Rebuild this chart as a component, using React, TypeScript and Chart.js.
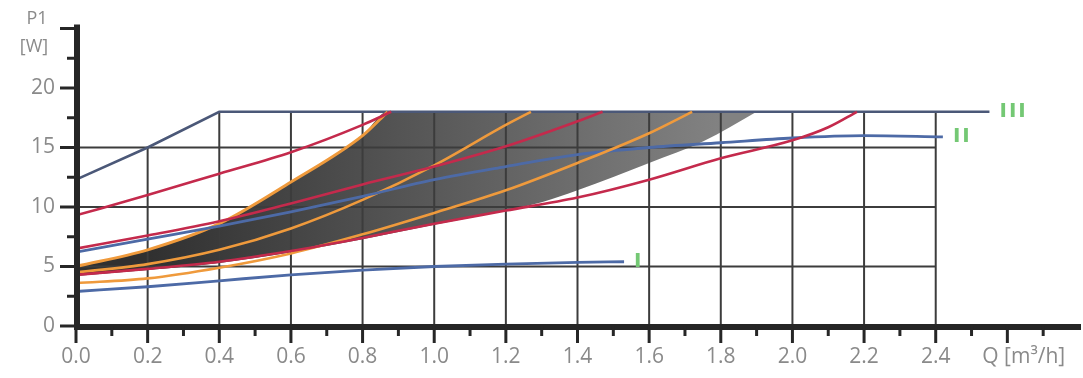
import React, { useEffect, useRef } from "react";
import { Chart, registerables } from "chart.js";

Chart.register(...registerables);

// ---- axis ticks / labels ----
const xTickValues = [0, 0.2, 0.4, 0.6, 0.8, 1.0, 1.2, 1.4, 1.6, 1.8, 2.0, 2.2, 2.4];
const xTickLabels = ["0.0", "0.2", "0.4", "0.6", "0.8", "1.0", "1.2", "1.4", "1.6", "1.8", "2.0", "2.2", "2.4"];
const yTickValues = [0, 5, 10, 15, 20];
const yTickLabels = ["0", "5", "10", "15", "20"];
const xAxisTitle = "Q [m³/h]";
const yAxisTitle = ["P1", "[W]"];
const gridRowValues = [5, 10, 15];

// ---- curves (Q in m³/h, P1 in W) ----
const qIII = [0, 0.2, 0.4, 2.55];
const pIII = [12.3, 15.0, 18, 18];
const qII = [0, 0.2, 0.4, 0.6, 0.8, 1.0, 1.2, 1.4, 1.6, 1.8, 2.0, 2.2, 2.42];
const pII = [6.2, 7.3, 8.4, 9.6, 10.9, 12.3, 13.4, 14.4, 15.0, 15.4, 15.8, 16.0, 15.9];
const qI = [0, 0.2, 0.4, 0.6, 0.8, 1.0, 1.2, 1.4, 1.53];
const pI = [2.9, 3.3, 3.8, 4.3, 4.7, 5.0, 5.2, 5.35, 5.4];

const qRed1 = [0, 0.2, 0.4, 0.6, 0.8, 0.88];
const pRed1 = [9.3, 11.0, 12.8, 14.6, 16.9, 18];
const qRed2 = [0, 0.2, 0.4, 0.6, 0.8, 1.0, 1.2, 1.4, 1.47];
const pRed2 = [6.5, 7.6, 8.8, 10.3, 11.9, 13.4, 15.1, 17.2, 18];
const qRed3 = [0, 0.2, 0.4, 0.6, 0.8, 1.0, 1.2, 1.4, 1.6, 1.8, 2.0, 2.1, 2.18];
const pRed3 = [4.3, 4.8, 5.4, 6.3, 7.4, 8.6, 9.7, 10.8, 12.3, 14.1, 15.6, 16.7, 18];

const qOrange1 = [0, 0.2, 0.4, 0.6, 0.8, 0.87];
const pOrange1 = [5.0, 6.4, 8.6, 12.1, 16.0, 18];
const qOrange2 = [0, 0.2, 0.4, 0.6, 0.8, 1.0, 1.2, 1.27];
const pOrange2 = [4.5, 5.2, 6.4, 8.2, 10.6, 13.5, 16.9, 18];
const qOrange3 = [0, 0.2, 0.4, 0.6, 0.8, 1.0, 1.2, 1.4, 1.6, 1.72];
const pOrange3 = [3.6, 4.0, 4.9, 6.1, 7.7, 9.5, 11.4, 13.7, 16.2, 18];

// ---- shaded operating area ----
const qAreaTop = [0, 0.2, 0.4, 0.6, 0.8, 0.87, 1.9];
const pAreaTop = [5.0, 6.4, 8.6, 12.1, 16.0, 18, 18];
const qAreaBottom = [0, 0.2, 0.4, 0.6, 0.8, 1.0, 1.2, 1.3, 1.4, 1.6, 1.75, 1.9];
const pAreaBottom = [4.2, 4.7, 5.3, 6.2, 7.3, 8.5, 9.7, 10.4, 11.4, 13.7, 15.5, 18];

const curveLabels = ["I", "II", "III"];

const pts = (q: number[], p: number[]) => q.map((x, i) => ({ x, y: p[i] }));

const RED = "#c42a4c";
const ORANGE = "#ef9a3c";
const BLUE = "#4d6aa6";
const NAVY = "#4b5878";
const GREEN = "#74c874";
const LABEL = "#8a8a8a";
const AXIS = "#262626";
const GRID = "#3c3c3c";

function interp(q: number[], p: number[], x: number) {
  if (x <= q[0]) return p[0];
  for (let i = 1; i < q.length; i++) {
    if (x <= q[i]) {
      const t = (x - q[i - 1]) / (q[i] - q[i - 1]);
      return p[i - 1] + t * (p[i] - p[i - 1]);
    }
  }
  return p[p.length - 1];
}

const framePlugin = {
  id: "frame",
  beforeDatasetsDraw(chart: any) {
    const { ctx, scales } = chart;
    const xs = scales.x, ys = scales.y;
    ctx.save();
    ctx.strokeStyle = GRID;
    ctx.lineWidth = 2;
    xTickValues.forEach((v) => {
      if (v === 0) return;
      const top = Math.min(18, interp(qIII, pIII, v));
      const x = xs.getPixelForValue(v);
      ctx.beginPath();
      ctx.moveTo(x, ys.getPixelForValue(0));
      ctx.lineTo(x, ys.getPixelForValue(top));
      ctx.stroke();
    });
    gridRowValues.forEach((v) => {
      const y = ys.getPixelForValue(v);
      ctx.beginPath();
      ctx.moveTo(xs.getPixelForValue(0), y);
      ctx.lineTo(xs.getPixelForValue(2.4), y);
      ctx.stroke();
    });
    ctx.restore();
  },
  afterDatasetsDraw(chart: any) {
    const { ctx, scales } = chart;
    const xs = scales.x, ys = scales.y;
    const x0 = xs.getPixelForValue(0);
    const y0 = ys.getPixelForValue(0);
    ctx.save();
    ctx.strokeStyle = AXIS;
    ctx.lineWidth = 6;
    ctx.lineCap = "butt";
    ctx.beginPath();
    ctx.moveTo(x0 + 1, ys.getPixelForValue(25) - 4);
    ctx.lineTo(x0 + 1, y0 + 4);
    ctx.stroke();
    ctx.beginPath();
    ctx.moveTo(x0 - 2, y0 + 1);
    ctx.lineTo(xs.getPixelForValue(2.8) + 2, y0 + 1);
    ctx.stroke();
    ctx.lineWidth = 3;
    for (let i = 0; i <= 10; i++) {
      const v = i * 2.5;
      const y = ys.getPixelForValue(v);
      const major = i % 2 === 0;
      ctx.beginPath();
      ctx.moveTo(major ? x0 - 16 : x0 - 9, y);
      ctx.lineTo(x0, y);
      ctx.stroke();
    }
    for (let i = 0; i <= 27; i++) {
      const v = i / 10;
      const x = xs.getPixelForValue(v);
      const major = i % 2 === 0;
      ctx.beginPath();
      ctx.moveTo(x, y0);
      ctx.lineTo(x, major ? y0 + 17 : y0 + 10);
      ctx.stroke();
    }
    ctx.fillStyle = LABEL;
    ctx.font = '21px "Open Sans"';
    ctx.textBaseline = "middle";
    ctx.textAlign = "center";
    xTickValues.forEach((v, i) => {
      ctx.fillText(xTickLabels[i], xs.getPixelForValue(v), y0 + 31);
    });
    ctx.textAlign = "right";
    yTickValues.forEach((v, i) => {
      ctx.fillText(yTickLabels[i], x0 - 21, ys.getPixelForValue(v));
    });
    ctx.textAlign = "center";
    ctx.font = '18px "Open Sans"';
    ctx.fillText(yAxisTitle[0], 37, 19);
    ctx.fillText(yAxisTitle[1], 34, 47);
    ctx.textAlign = "left";
    ctx.font = '21px "Open Sans"';
    ctx.fillText(xAxisTitle, xs.getPixelForValue(2.53), y0 + 31);
    ctx.fillStyle = GREEN;
    ctx.font = 'bold 20px "DejaVu Sans"';
    ctx.textAlign = "left";
    try { (ctx as any).letterSpacing = "2px"; } catch (e) {}
    const ends: [number[], number[], number][] = [
      [qI, pI, 0],
      [qII, pII, 1],
      [qIII, pIII, 2],
    ];
    ends.forEach(([q, p, k]) => {
      const lx = xs.getPixelForValue(q[q.length - 1]) + 10;
      const ly = ys.getPixelForValue(p[p.length - 1]);
      ctx.fillText(curveLabels[k], lx, ly);
    });
    ctx.restore();
  },
};

export default function App() {
  const canvasRef = useRef<HTMLCanvasElement | null>(null);

  useEffect(() => {
    if (!canvasRef.current) return;
    const lineDs = (data: any[], color: string, width = 2.6, mode = "monotone") => ({
      data,
      borderColor: color,
      borderWidth: width,
      pointRadius: 0,
      fill: false,
      tension: mode === "monotone" ? 0.4 : 0,
      cubicInterpolationMode: mode,
      order: 10,
    });
    const chart = new Chart(canvasRef.current, {
      type: "line",
      data: {
        datasets: [
          {
            data: pts(qAreaBottom, pAreaBottom),
            borderWidth: 0,
            borderColor: "rgba(0,0,0,0)",
            pointRadius: 0,
            fill: false,
            tension: 0.4,
            cubicInterpolationMode: "monotone",
            order: 100,
          } as any,
          {
            data: pts(qAreaTop, pAreaTop),
            borderWidth: 0,
            borderColor: "rgba(0,0,0,0)",
            pointRadius: 0,
            fill: { target: 0 },
            tension: 0.4,
            cubicInterpolationMode: "monotone",
            order: 99,
            backgroundColor: (c: any) => {
              const ch = c.chart;
              if (!ch.chartArea || !ch.scales.x) return "#555";
              const g = ch.ctx.createLinearGradient(
                ch.scales.x.getPixelForValue(0.2), 0,
                ch.scales.x.getPixelForValue(1.8), 0
              );
              g.addColorStop(0, "#303030");
              g.addColorStop(1, "#828282");
              return g;
            },
          } as any,
          lineDs(pts(qI, pI), BLUE, 2.8),
          lineDs(pts(qRed3, pRed3), RED),
          lineDs(pts(qOrange3, pOrange3), ORANGE),
          lineDs(pts(qII, pII), BLUE, 2.8),
          lineDs(pts(qRed2, pRed2), RED),
          lineDs(pts(qOrange2, pOrange2), ORANGE),
          lineDs(pts(qRed1, pRed1), RED),
          lineDs(pts(qOrange1, pOrange1), ORANGE, 3),
          lineDs(pts(qIII, pIII), NAVY, 2.6, "default"),
        ],
      },
      options: {
        animation: false,
        responsive: true,
        maintainAspectRatio: false,
        layout: { padding: { left: 76, right: 4, top: 28.5, bottom: 52 } },
        scales: {
          x: { type: "linear", min: 0, max: 2.8, display: false },
          y: { type: "linear", min: 0, max: 25, display: false },
        },
        plugins: {
          legend: { display: false },
          tooltip: { enabled: false },
          filler: { drawTime: "beforeDatasetsDraw" },
        },
      } as any,
      plugins: [framePlugin],
    });
    return () => chart.destroy();
  }, []);

  return (
    <div style={{ position: "fixed", left: 0, top: 0, width: 1083, height: 378, background: "#fff" }}>
      <canvas ref={canvasRef} />
    </div>
  );
}
